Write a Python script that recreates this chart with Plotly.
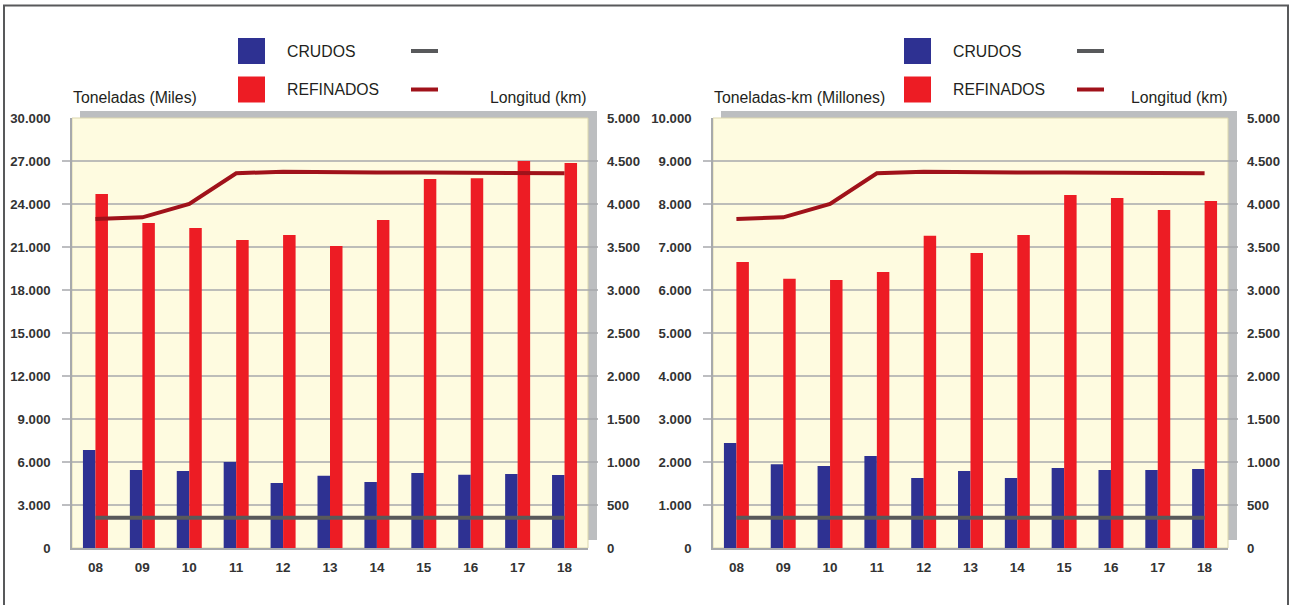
import plotly.graph_objects as go

# ---------------- data ----------------
years = ["08", "09", "10", "11", "12", "13", "14", "15", "16", "17", "18"]

# Left chart: Toneladas (Miles)
ton_crudos = [6840, 5440, 5370, 6000, 4540, 5040, 4600, 5230, 5115, 5160, 5090]
ton_refinados = [24700, 22670, 22330, 21490, 21840, 21070, 22880, 25750, 25800, 27000, 26860]

# Right chart: Toneladas-km (Millones)
tkm_crudos = [2440, 1950, 1907, 2140, 1628, 1790, 1630, 1860, 1814, 1814, 1837]
tkm_refinados = [6650, 6260, 6230, 6420, 7260, 6860, 7280, 8210, 8140, 7860, 8070]

# Longitud (km) - same on both charts
km_crudos = [352, 352, 352, 352, 352, 352, 352, 352, 352, 352, 352]
km_refinados = [3826, 3845, 4000, 4357, 4376, 4366, 4366, 4366, 4366, 4366, 4357]

ton_ticks = [0, 3000, 6000, 9000, 12000, 15000, 18000, 21000, 24000, 27000, 30000]
ton_labels = ["0", "3.000", "6.000", "9.000", "12.000", "15.000", "18.000",
              "21.000", "24.000", "27.000", "30.000"]
tkm_ticks = [0, 1000, 2000, 3000, 4000, 5000, 6000, 7000, 8000, 9000, 10000]
tkm_labels = ["0", "1.000", "2.000", "3.000", "4.000", "5.000", "6.000",
              "7.000", "8.000", "9.000", "10.000"]
km_ticks = [0, 500, 1000, 1500, 2000, 2500, 3000, 3500, 4000, 4500, 5000]
km_labels = ["0", "500", "1.000", "1.500", "2.000", "2.500", "3.000",
             "3.500", "4.000", "4.500", "5.000"]

legend_names = ["CRUDOS", "REFINADOS"]

# ---------------- styles ----------------
W, H = 1290, 605
BLUE = "#2E3192"
RED = "#ED1C24"
DARKRED = "#A0121A"
GRAYLINE = "#58595B"
GRID = "#A7A9AC"
SHADOW = "#BCBEC0"
PLOTBG = "#FEFBE0"
TXT = "#231F20"
TICKFONT = dict(family="Liberation Sans, Arial", size=13.2, color="#333333", weight="bold")
XTICKFONT = dict(family="Liberation Sans, Arial", size=13.5, color="#333333", weight="bold")
LABELFONT = dict(family="Liberation Sans, Arial", size=15.8, color=TXT)


def X(px):
    return px / W


def Y(py):
    return 1 - py / H


fig = go.Figure()

charts = [
    dict(xa="x", ya="y", ya2="y2", crudos=ton_crudos, refinados=ton_refinados,
         left=72, right=588),
    dict(xa="x2", ya="y3", ya2="y4", crudos=tkm_crudos, refinados=tkm_refinados,
         left=713, right=1228),
]

for c in charts:
    fig.add_trace(go.Bar(x=years, y=c["crudos"], name="CRUDOS", marker=dict(color=BLUE, line_width=0),
                         xaxis=c["xa"], yaxis=c["ya"], showlegend=False))
    fig.add_trace(go.Bar(x=years, y=c["refinados"], name="REFINADOS", marker=dict(color=RED, line_width=0),
                         xaxis=c["xa"], yaxis=c["ya"], showlegend=False))
    fig.add_trace(go.Scatter(x=years, y=km_crudos, mode="lines", line=dict(color=GRAYLINE, width=4),
                             xaxis=c["xa"], yaxis=c["ya2"], showlegend=False))
    fig.add_trace(go.Scatter(x=years, y=km_refinados, mode="lines", line=dict(color=DARKRED, width=4),
                             xaxis=c["xa"], yaxis=c["ya2"], showlegend=False))

ydom = [Y(548), Y(118)]

common_x = dict(type="category", range=[-0.5, 10.5], showline=True, linecolor=GRID, linewidth=1.5,
                ticks="", showgrid=False, zeroline=False, tickfont=XTICKFONT, ticklabelstandoff=6,
                fixedrange=True)
common_yl = dict(showgrid=False, zeroline=False, showline=True, linecolor=GRID, linewidth=1.5,
                 ticks="", tickfont=TICKFONT, ticklabelstandoff=17, fixedrange=True)
common_yr = dict(showgrid=False, zeroline=False, showline=False, ticks="", tickfont=TICKFONT,
                 ticklabelstandoff=18, side="right", fixedrange=True)

layout = dict(
    width=W, height=H, autosize=False,
    margin=dict(l=0, r=0, t=0, b=0, pad=0, autoexpand=False),
    paper_bgcolor="white", plot_bgcolor="rgba(0,0,0,0)",
    barmode="group", bargap=0.467, bargroupgap=0,
    showlegend=False,
    xaxis=dict(domain=[X(72), X(588)], anchor="y", **common_x),
    yaxis=dict(domain=ydom, anchor="x", range=[0, 30000], tickvals=ton_ticks, ticktext=ton_labels,
               **common_yl),
    yaxis2=dict(overlaying="y", anchor="x", range=[0, 5000], tickvals=km_ticks, ticktext=km_labels,
                **common_yr),
    xaxis2=dict(domain=[X(713), X(1228)], anchor="y3", **common_x),
    yaxis3=dict(domain=ydom, anchor="x2", range=[0, 10000], tickvals=tkm_ticks, ticktext=tkm_labels,
                **common_yl),
    yaxis4=dict(overlaying="y3", anchor="x2", range=[0, 5000], tickvals=km_ticks, ticktext=km_labels,
                **common_yr),
)
fig.update_layout(**layout)

shapes = []
# outer frame
shapes.append(dict(type="rect", xref="paper", yref="paper", x0=X(4), x1=X(1288), y0=Y(620), y1=Y(5.5),
                   line=dict(color=GRAYLINE, width=2), fillcolor="rgba(0,0,0,0)", layer="below"))

annotations = []
for c, yref, ticks in [(charts[0], "y", ton_ticks), (charts[1], "y3", tkm_ticks)]:
    L, R = c["left"], c["right"]
    # 3D shadow
    shapes.append(dict(type="rect", xref="paper", yref="paper", x0=X(L + 8), x1=X(R + 9),
                       y0=Y(540), y1=Y(111), fillcolor=SHADOW, line=dict(width=0), layer="below"))
    # plot area
    shapes.append(dict(type="rect", xref="paper", yref="paper", x0=X(L), x1=X(R),
                       y0=Y(548), y1=Y(118), fillcolor=PLOTBG, line=dict(color="#DCD7AE", width=1),
                       layer="below"))
    # gridlines (extend past plot area)
    for v in ticks[1:-1]:
        shapes.append(dict(type="line", xref="paper", yref=yref, x0=X(L - 10), x1=X(R + 10),
                           y0=v, y1=v, line=dict(color=GRID, width=1.3), layer="below"))

# legends
for off in (0, 666):
    for i, (sq, ln, name) in enumerate([(BLUE, GRAYLINE, legend_names[0]), (RED, DARKRED, legend_names[1])]):
        yc = 51 if i == 0 else 89.5
        shapes.append(dict(type="rect", xref="paper", yref="paper", x0=X(238 + off), x1=X(265 + off),
                           y0=Y(yc + 13), y1=Y(yc - 13), fillcolor=sq, line=dict(width=0)))
        shapes.append(dict(type="line", xref="paper", yref="paper", x0=X(411 + off), x1=X(438 + off),
                           y0=Y(yc), y1=Y(yc), line=dict(color=ln, width=4)))
        annotations.append(dict(text=name, xref="paper", yref="paper", x=X(285 + off), y=Y(yc),
                                xanchor="left", yanchor="middle", showarrow=False, font=LABELFONT))

# axis titles
annotations.append(dict(text="Toneladas (Miles)", xref="paper", yref="paper", x=X(71), y=Y(97),
                        xanchor="left", yanchor="middle", showarrow=False, font=LABELFONT))
annotations.append(dict(text="Longitud (km)", xref="paper", yref="paper", x=X(589), y=Y(97),
                        xanchor="right", yanchor="middle", showarrow=False, font=LABELFONT))
annotations.append(dict(text="Toneladas-km (Millones)", xref="paper", yref="paper", x=X(712), y=Y(97),
                        xanchor="left", yanchor="middle", showarrow=False, font=LABELFONT))
annotations.append(dict(text="Longitud (km)", xref="paper", yref="paper", x=X(1230), y=Y(97),
                        xanchor="right", yanchor="middle", showarrow=False, font=LABELFONT))

fig.update_layout(shapes=shapes, annotations=annotations)

fig.write_html("out.html", config={"displayModeBar": False},
               post_script="document.body.style.margin='0';document.body.style.overflow='hidden';")
